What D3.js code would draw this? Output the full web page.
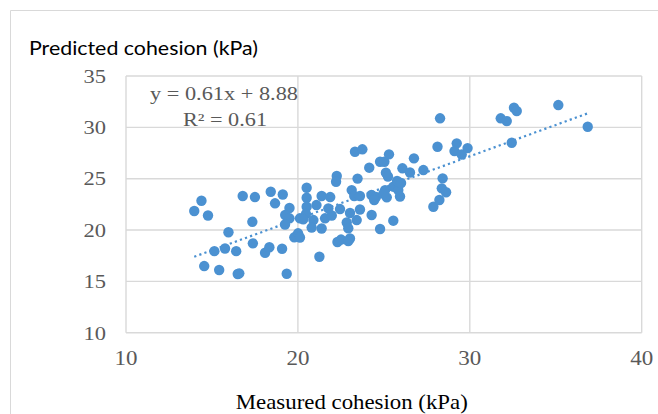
<!DOCTYPE html>
<html>
<head>
<meta charset="utf-8">
<script src="https://cdn.jsdelivr.net/npm/d3@7"></script>
<style>
  html, body { margin: 0; padding: 0; background: #fff; }
  svg { display: block; }
  .serif { font-family: "Liberation Serif", "Times New Roman", serif; }
  .sans { font-family: "Lato", "Liberation Sans", sans-serif; }
</style>
</head>
<body>
<svg id="chart" width="658" height="414"></svg>
<script>
// Measured vs predicted cohesion (kPa)
const measured = [
  13.97, 14.39, 14.77, 14.55, 15.14, 15.42, 15.76, 15.96, 16.41, 16.50,
  16.59, 16.79, 17.35, 17.38, 17.50, 18.09, 18.34, 18.42, 18.67, 19.08,
  19.12, 19.35, 19.51, 19.26, 19.51, 19.25, 19.79, 20.01, 20.12, 20.12,
  20.51, 20.51, 20.51, 20.47, 20.31, 20.90, 20.80, 21.08, 21.38, 21.88,
  21.38, 21.58, 21.97, 21.77, 21.25, 22.45, 22.26, 22.22, 22.30, 22.51,
  23.03, 22.93, 22.84, 22.93, 23.03, 23.13, 23.28, 23.32, 23.75, 23.47,
  23.61, 23.61, 23.42, 24.29, 24.28, 24.54, 24.44, 24.15, 24.78, 25.03,
  25.30, 25.12, 25.24, 24.78, 25.07, 24.97, 25.17, 25.55, 25.84, 25.94,
  25.77, 26.00, 25.55, 26.08, 26.52, 26.75, 27.30, 27.88, 28.23, 28.37,
  28.62, 28.42, 28.27, 28.12, 29.24, 29.11, 29.53, 29.87, 31.80, 32.15,
  32.57, 32.73, 32.44, 35.15, 36.86
];
const predicted = [
  21.85, 22.85, 21.41, 16.49, 17.94, 16.11, 18.20, 19.78, 17.94, 15.72,
  15.78, 23.31, 20.80, 18.70, 23.21, 17.79, 18.32, 23.73, 22.60, 18.18,
  23.46, 15.74, 22.14, 21.46, 21.14, 20.54, 19.29, 19.68, 19.27, 21.14,
  24.12, 23.14, 22.27, 21.56, 21.04, 20.97, 20.24, 22.43, 23.31, 23.21,
  20.15, 21.14, 21.41, 22.11, 17.40, 22.04, 25.26, 24.70, 18.83, 19.07,
  19.17, 18.93, 20.73, 20.17, 21.66, 23.89, 23.31, 27.62, 27.86, 25.01,
  23.31, 22.00, 20.97, 21.46, 23.41, 23.21, 22.92, 26.07, 26.65, 26.65,
  27.37, 25.58, 25.21, 20.10, 23.89, 23.55, 23.18, 24.22, 23.89, 23.26,
  24.77, 24.58, 20.91, 26.01, 25.60, 26.98, 25.84, 22.27, 22.92, 24.06,
  23.68, 25.03, 30.88, 28.11, 28.44, 27.69, 27.35, 27.98, 30.88, 30.61,
  31.91, 31.59, 28.50, 32.17, 30.06
];

// Linear trendline as reported on the chart
const trendSlope = 0.61;
const trendIntercept = 8.88;
const trendLabel = "y = 0.61x + 8.88";
const r2Label = "R² = 0.61";

const xTicks = [10, 20, 30, 40];
const yTicks = [10, 15, 20, 25, 30, 35];
const xTitle = "Measured cohesion (kPa)";
const yTitle = "Predicted cohesion (kPa)";

const svg = d3.select("#chart");
const W = 658, H = 414;
const plot = { left: 126, right: 641.7, top: 76, bottom: 332.7 };

const x = d3.scaleLinear().domain([10, 40]).range([plot.left, plot.right]);
const y = d3.scaleLinear().domain([10, 35]).range([plot.bottom, plot.top]);

const gridColor = "#d9d9d9";
const labelColor = "#595959";
const dotColor = "#4b91d1";

// outer chart frame (top and left edges fall inside the canvas)
svg.append("path")
  .attr("d", `M10.5,${H}V10.5H${W}`)
  .attr("fill", "none").attr("stroke", "#d9d9d9").attr("stroke-width", 1);

// gridlines
const grid = svg.append("g");
grid.selectAll("line.h").data(yTicks).join("line")
  .attr("x1", plot.left).attr("x2", plot.right)
  .attr("y1", d => y(d)).attr("y2", d => y(d))
  .attr("stroke", gridColor).attr("stroke-width", 1.4);
grid.selectAll("line.v").data(xTicks).join("line")
  .attr("y1", plot.top).attr("y2", plot.bottom)
  .attr("x1", d => x(d)).attr("x2", d => x(d))
  .attr("stroke", gridColor).attr("stroke-width", 1.4);

// tick labels
svg.append("g").selectAll("text").data(yTicks).join("text")
  .attr("class", "serif")
  .attr("x", plot.left - 20).attr("y", d => y(d) + 6.8)
  .attr("text-anchor", "end")
  .attr("font-size", 19.5)
  .attr("fill", labelColor)
  .attr("textLength", 22.5).attr("lengthAdjust", "spacingAndGlyphs")
  .text(d => d);

svg.append("g").selectAll("text").data(xTicks).join("text")
  .attr("class", "serif")
  .attr("x", d => x(d)).attr("y", 364.5)
  .attr("text-anchor", "middle")
  .attr("font-size", 20.5)
  .attr("fill", labelColor)
  .attr("textLength", 23).attr("lengthAdjust", "spacingAndGlyphs")
  .text(d => d);

// axis titles
svg.append("text")
  .attr("class", "sans")
  .attr("x", 29).attr("y", 55)
  .attr("font-size", 18.5).attr("fill", "#000")
  .attr("textLength", 229).attr("lengthAdjust", "spacingAndGlyphs")
  .text(yTitle);

svg.append("text")
  .attr("class", "serif")
  .attr("x", 351.8).attr("y", 409)
  .attr("text-anchor", "middle")
  .attr("font-size", 21)
  .attr("fill", "#000")
  .attr("textLength", 232).attr("lengthAdjust", "spacingAndGlyphs")
  .text(xTitle);

// trendline across the measured range
const xMin = d3.min(measured), xMax = d3.max(measured);
svg.append("line")
  .attr("x1", x(xMin)).attr("y1", y(trendSlope * xMin + trendIntercept))
  .attr("x2", x(xMax)).attr("y2", y(trendSlope * xMax + trendIntercept))
  .attr("stroke", dotColor).attr("stroke-width", 2.2)
  .attr("stroke-dasharray", "2.2,3.2");

// data points
const pts = d3.zip(measured, predicted);
svg.append("g").selectAll("circle").data(pts).join("circle")
  .attr("cx", d => x(d[0])).attr("cy", d => y(d[1]))
  .attr("r", 5.2).attr("fill", dotColor);

// trendline equation
svg.append("text")
  .attr("class", "serif")
  .attr("x", 224).attr("y", 99.5)
  .attr("text-anchor", "middle")
  .attr("font-size", 18.5)
  .attr("fill", labelColor)
  .attr("textLength", 148).attr("lengthAdjust", "spacingAndGlyphs")
  .text(trendLabel);
svg.append("text")
  .attr("class", "serif")
  .attr("x", 225).attr("y", 125.5)
  .attr("text-anchor", "middle")
  .attr("font-size", 18.5)
  .attr("fill", labelColor)
  .attr("textLength", 84).attr("lengthAdjust", "spacingAndGlyphs")
  .text(r2Label);
</script>
</body>
</html>
